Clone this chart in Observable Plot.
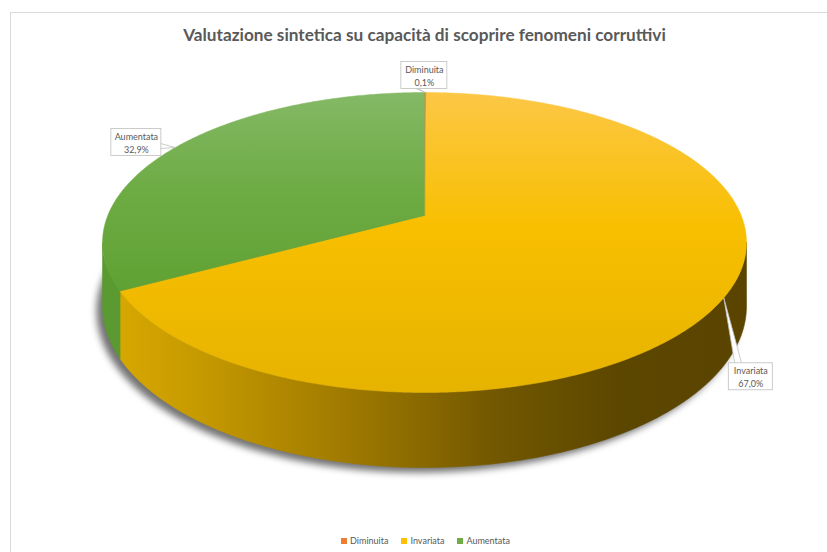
<!DOCTYPE html>
<html><head><meta charset="utf-8">
<script src="https://cdn.jsdelivr.net/npm/d3@7"></script>
<script src="https://cdn.jsdelivr.net/npm/@observablehq/plot@0.6"></script>
<style>
body{margin:0;background:#fff;}
#wrap{position:relative;width:827px;height:552px;overflow:hidden;font-family:Lato,"Open Sans",sans-serif;}
#frame{position:absolute;left:10px;top:12px;width:900px;height:700px;border-left:1px solid #d9d9d9;border-top:1px solid #d9d9d9;}
#title{position:absolute;left:0;width:849px;top:25px;text-align:center;font-weight:bold;color:#595959;white-space:nowrap;line-height:20px;}
#chart{position:absolute;left:0;top:0;}
#legend{position:absolute;left:0;width:851px;top:535px;display:flex;justify-content:center;gap:13px;font-size:9px;color:#595959;line-height:12px;}
#legend .it{display:flex;align-items:center;}
#legend .sw{width:6px;height:6px;margin-right:3px;display:inline-block;}
</style></head>
<body>
<div id="wrap">
  <div id="frame"></div>
  <div id="chart"></div>
  <div id="title"></div>
  <div id="legend"></div>
</div>
<script>
// ---- data ----
const chartTitle = "Valutazione sintetica su capacità di scoprire fenomeni corruttivi";
const categories = ["Diminuita", "Invariata", "Aumentata"];
const shares = [0.1, 67.0, 32.9];
const valueLabels = ["0,1%", "67,0%", "32,9%"];

// ---- styles ----
const baseColors = ["#ED7D31", "#FFC000", "#70AD47"];
const topFills = ["#ED7D31", "url(#gTopY)", "url(#gTopG)"];
const sideFills = ["#C0601F", "url(#gSideY)", "#5A9A31"];

// ---- layout (3D perspective pie) ----
const W = 827, H = 552;
const CX = 424, S = 316.7, P = 215, Q = 106.44, K = -0.18, D = 61.5;
function proj(theta, h) {
  const r = theta * Math.PI / 180;
  const u = Math.sin(r), v = -Math.cos(r);
  const w = 1 + K * v;
  return {x: CX + S * u / w, y: (P + Q * v) / w + h * D / w};
}
function arcPts(a, b, h) {
  const n = Math.max(2, Math.ceil(Math.abs(b - a) / 0.5));
  const pts = [];
  for (let i = 0; i <= n; i++) pts.push(proj(a + (b - a) * i / n, h));
  return pts;
}
const total = d3.sum(shares);
let acc = 0;
const slices = categories.map((c, i) => {
  const a = acc / total * 360; acc += shares[i];
  const b = acc / total * 360;
  return {cat: c, i, a, b, mid: (a + b) / 2};
});
const visA = Math.acos(K) * 180 / Math.PI, visB = 360 - visA;

const marks = [];
const poly = (pts, fill, stroke, sw, extra = {}) =>
  Plot.line(pts, {x: "x", y: "y", fill, stroke, strokeWidth: sw, curve: "linear-closed", ...extra});

// shadow (first line mark)
const shadowPts = arcPts(0, 360, 1).map(p => ({x: p.x - 6, y: p.y + 5}));
marks.push(poly(shadowPts, "#000", "none", 0, {fillOpacity: 0.55}));

// sides
slices.forEach(s => {
  const a = Math.max(s.a, visA), b = Math.min(s.b, visB);
  if (b <= a) return;
  const pts = arcPts(a, b, 0).concat(arcPts(b, a, 1));
  marks.push(poly(pts, sideFills[s.i], sideFills[s.i], 0.6));
});
// tops
slices.forEach(s => {
  const pts = [{x: CX, y: P}].concat(arcPts(s.a, s.b, 0));
  marks.push(poly(pts, topFills[s.i], s.i === 0 ? baseColors[0] : topFills[s.i], s.i === 0 ? 1 : 0.5));
});

// callout labels
const labelLayout = {
  Diminuita: {dx: -1, dy: -17, w: 46, h: 27, ptr: [[-11, 12], [-8, 12]]},
  Aumentata: {dx: -39, dy: -5, w: 50, h: 27, ptr: [[24, 1], [24, 6]]},
  Invariata: {dx: 27, dy: 79, w: 44, h: 27, ptr: [[-16, -13], [-9, -13]]}
};
const labels = slices.map(s => {
  const an = proj(s.mid, 0);
  const L = labelLayout[s.cat];
  const cx = an.x + L.dx, cy = an.y + L.dy;
  return {cat: s.cat, text: s.cat + "\n" + valueLabels[s.i], ax: an.x, ay: an.y, cx, cy,
    x1: cx - L.w / 2, x2: cx + L.w / 2, y1: cy - L.h / 2, y2: cy + L.h / 2,
    ptr: [{x: cx + L.ptr[0][0], y: cy + L.ptr[0][1]}, {x: an.x, y: an.y}, {x: cx + L.ptr[1][0], y: cy + L.ptr[1][1]}]};
});
labels.forEach(l => marks.push(poly(l.ptr, "white", "#bfbfbf", 0.8)));
marks.push(Plot.rect(labels, {x1: "x1", x2: "x2", y1: "y1", y2: "y2", fill: "white", stroke: "#bfbfbf", strokeWidth: 0.8}));
marks.push(Plot.text(labels, {x: "cx", y: "cy", text: "text", fill: "#595959", fontSize: 9, lineHeight: 1.45, fontFamily: "Lato, 'Open Sans', sans-serif"}));

const chart = Plot.plot({
  width: W, height: H, margin: 0,
  x: {domain: [0, W], range: [0, W], axis: null},
  y: {domain: [0, H], range: [0, H], axis: null},
  style: {background: "transparent", overflow: "visible"},
  marks
});
d3.select(chart).insert("defs", ":first-child").html(`
  <linearGradient id="gTopY" gradientUnits="userSpaceOnUse" x1="0" y1="92" x2="0" y2="392">
    <stop offset="0" stop-color="#FCC746"/><stop offset="0.45" stop-color="#F8BF00"/><stop offset="1" stop-color="#E6B300"/>
  </linearGradient>
  <linearGradient id="gTopG" gradientUnits="userSpaceOnUse" x1="0" y1="92" x2="0" y2="295">
    <stop offset="0" stop-color="#84B966"/><stop offset="0.5" stop-color="#6DAB43"/><stop offset="1" stop-color="#5FA133"/>
  </linearGradient>
  <linearGradient id="gSideY" gradientUnits="userSpaceOnUse" x1="110" y1="0" x2="746" y2="0">
    <stop offset="0" stop-color="#D9A900"/><stop offset="0.15" stop-color="#C49800"/><stop offset="0.4" stop-color="#9A7600"/>
    <stop offset="0.6" stop-color="#735800"/><stop offset="0.8" stop-color="#5C4700"/><stop offset="1" stop-color="#5A4400"/>
  </linearGradient>
  <filter id="blur" x="-10%" y="-10%" width="120%" height="120%"><feGaussianBlur stdDeviation="3.5"/></filter>
`);
d3.select(chart).select('g[aria-label="line"]').attr("filter", "url(#blur)");
document.getElementById("chart").appendChild(chart);

// title, fitted to the reference width
const titleEl = document.getElementById("title");
titleEl.textContent = chartTitle;
const ctx = document.createElement("canvas").getContext("2d");
ctx.font = "bold 20px Lato";
const tw = ctx.measureText(chartTitle).width;
titleEl.style.fontSize = (20 * 483 / tw).toFixed(2) + "px";

// legend
const lg = d3.select("#legend");
categories.forEach((c, i) => {
  const it = lg.append("div").attr("class", "it");
  it.append("span").attr("class", "sw").style("background", baseColors[i]);
  it.append("span").text(c);
});
</script>
</body></html>
